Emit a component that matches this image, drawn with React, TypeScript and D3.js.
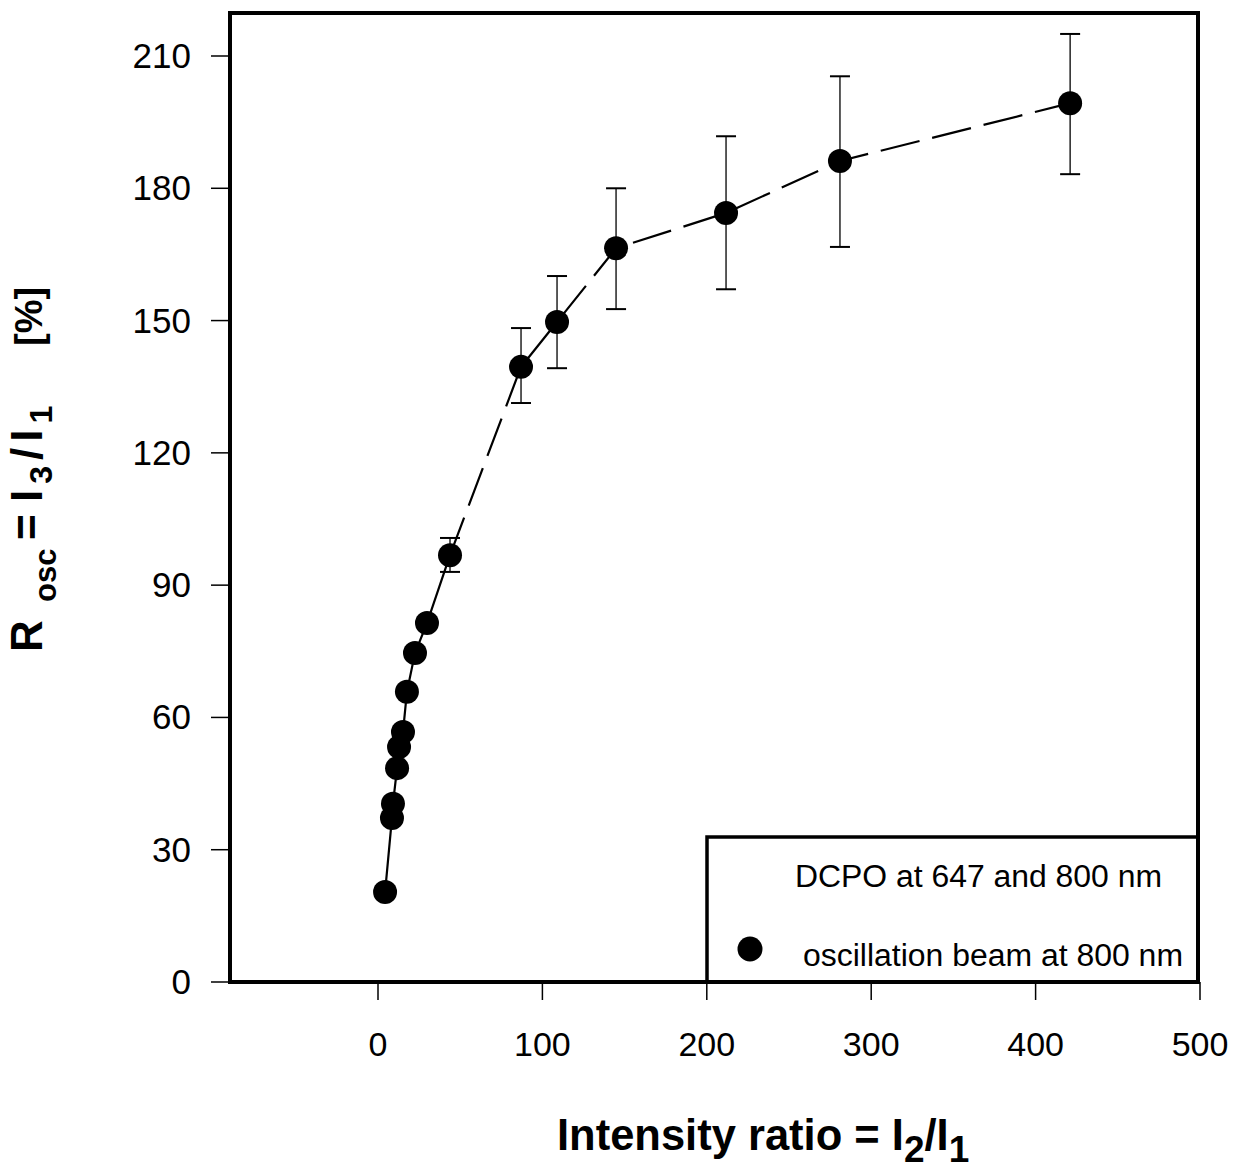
import React from "react";
import * as d3 from "d3";

const xValues = [4.3, 8.5, 9.1, 11.6, 12.8, 15.2, 17.6, 22.5, 29.8, 43.8, 87, 108.9, 144.8, 211.7, 281, 421];
const yValues = [20.4, 37.2, 40.4, 48.5, 53.3, 56.7, 65.8, 74.6, 81.4, 96.8, 139.5, 149.7, 166.4, 174.4, 186.2, 199.3];
const errLow = [null, null, null, null, null, null, null, null, null, 93.0, 131.3, 139.2, 152.6, 157.1, 166.7, 183.2];
const errHigh = [null, null, null, null, null, null, null, null, null, 100.7, 148.3, 160.1, 180.0, 191.8, 205.4, 215.0];
const xTicks = [0, 100, 200, 300, 400, 500];
const yTicks = [0, 30, 60, 90, 120, 150, 180, 210];
const legendTitle = "DCPO at 647 and 800 nm";
const legendSeries = "oscillation beam at 800 nm";

const W = 1237, H = 1175;
const frame = { left: 230, right: 1198, top: 13, bottom: 982 };
const font = "'Liberation Sans', Arial, Helvetica, sans-serif";

export default function App() {
  const x = d3.scaleLinear().domain([0, 500]).range([378, 1200]);
  const y = d3.scaleLinear().domain([0, 210]).range([982, 56]);
  const pts = xValues.map((v, i) => ({ x: v, y: yValues[i], lo: errLow[i], hi: errHigh[i] }));
  const line = d3.line<{ x: number; y: number }>().x(d => x(d.x)).y(d => y(d.y));
  const solidPts = pts.slice(0, 10);
  const dashPts = pts.slice(9);

  return (
    <svg width={W} height={H} style={{ position: "absolute", left: 0, top: 0, background: "#fff" }} fontFamily={font}>
      <rect x={0} y={0} width={W} height={H} fill="#fff" />
      {/* y ticks */}
      {yTicks.map(t => (
        <g key={"y" + t}>
          <line x1={211} x2={frame.left} y1={y(t)} y2={y(t)} stroke="#000" strokeWidth={1.5} />
          <text x={191} y={y(t) + 12} textAnchor="end" fontSize={35} fill="#000">{t}</text>
        </g>
      ))}
      {/* x ticks */}
      {xTicks.map(t => (
        <g key={"x" + t}>
          <line x1={x(t)} x2={x(t)} y1={frame.bottom} y2={1000} stroke="#000" strokeWidth={1.5} />
          <text x={x(t)} y={1056} textAnchor="middle" fontSize={34} fill="#000">{t}</text>
        </g>
      ))}
      {/* lines */}
      <path d={line(solidPts) || ""} fill="none" stroke="#000" strokeWidth={2.2} />
      <path d={line(dashPts) || ""} fill="none" stroke="#000" strokeWidth={2.2} strokeDasharray="40 13" />
      {/* error bars */}
      {pts.filter(p => p.lo != null).map((p, i) => (
        <g key={"e" + i} stroke="#000" strokeWidth={1.3}>
          <line x1={x(p.x)} x2={x(p.x)} y1={y(p.lo as number)} y2={y(p.hi as number)} />
          <line x1={x(p.x) - 10} x2={x(p.x) + 10} y1={y(p.lo as number)} y2={y(p.lo as number)} strokeWidth={2} />
          <line x1={x(p.x) - 10} x2={x(p.x) + 10} y1={y(p.hi as number)} y2={y(p.hi as number)} strokeWidth={2} />
        </g>
      ))}
      {/* markers */}
      {pts.map((p, i) => (
        <circle key={"c" + i} cx={x(p.x)} cy={y(p.y)} r={12} fill="#000" />
      ))}
      {/* legend */}
      <rect x={707} y={837} width={frame.right - 707} height={frame.bottom - 837} fill="#fff" stroke="#000" strokeWidth={3.5} />
      <text x={795} y={887} fontSize={31} textLength={367} lengthAdjust="spacingAndGlyphs" fill="#000">{legendTitle}</text>
      <circle cx={750} cy={949} r={12.5} fill="#000" />
      <text x={803} y={966} fontSize={31} textLength={380} lengthAdjust="spacingAndGlyphs" fill="#000">{legendSeries}</text>
      {/* frame */}
      <rect x={frame.left} y={frame.top} width={frame.right - frame.left} height={frame.bottom - frame.top} fill="none" stroke="#000" strokeWidth={4} />
      {/* axis titles */}
      <text x={557} y={1150} fontSize={43.5} fontWeight="bold" fill="#000">
        Intensity ratio = I<tspan fontSize={37} dy={12}>2</tspan><tspan dy={-12}>/I</tspan><tspan fontSize={37} dy={12}>1</tspan>
      </text>
      <g transform="rotate(-90)" fontWeight="bold" fill="#000">
        <text x={-652} y={42} fontSize={44}>R</text>
        <text x={-602} y={56} fontSize={31}>osc</text>
        <text x={-540} y={42} fontSize={44}>=</text>
        <text x={-502} y={42} fontSize={44} letterSpacing={6}>
          I<tspan fontSize={32} dy={10}>3</tspan><tspan dy={-10}>/I</tspan><tspan fontSize={32} dy={10}>1</tspan>
        </text>
        <text x={-346} y={42} fontSize={38}>[%]</text>
      </g>
    </svg>
  );
}
